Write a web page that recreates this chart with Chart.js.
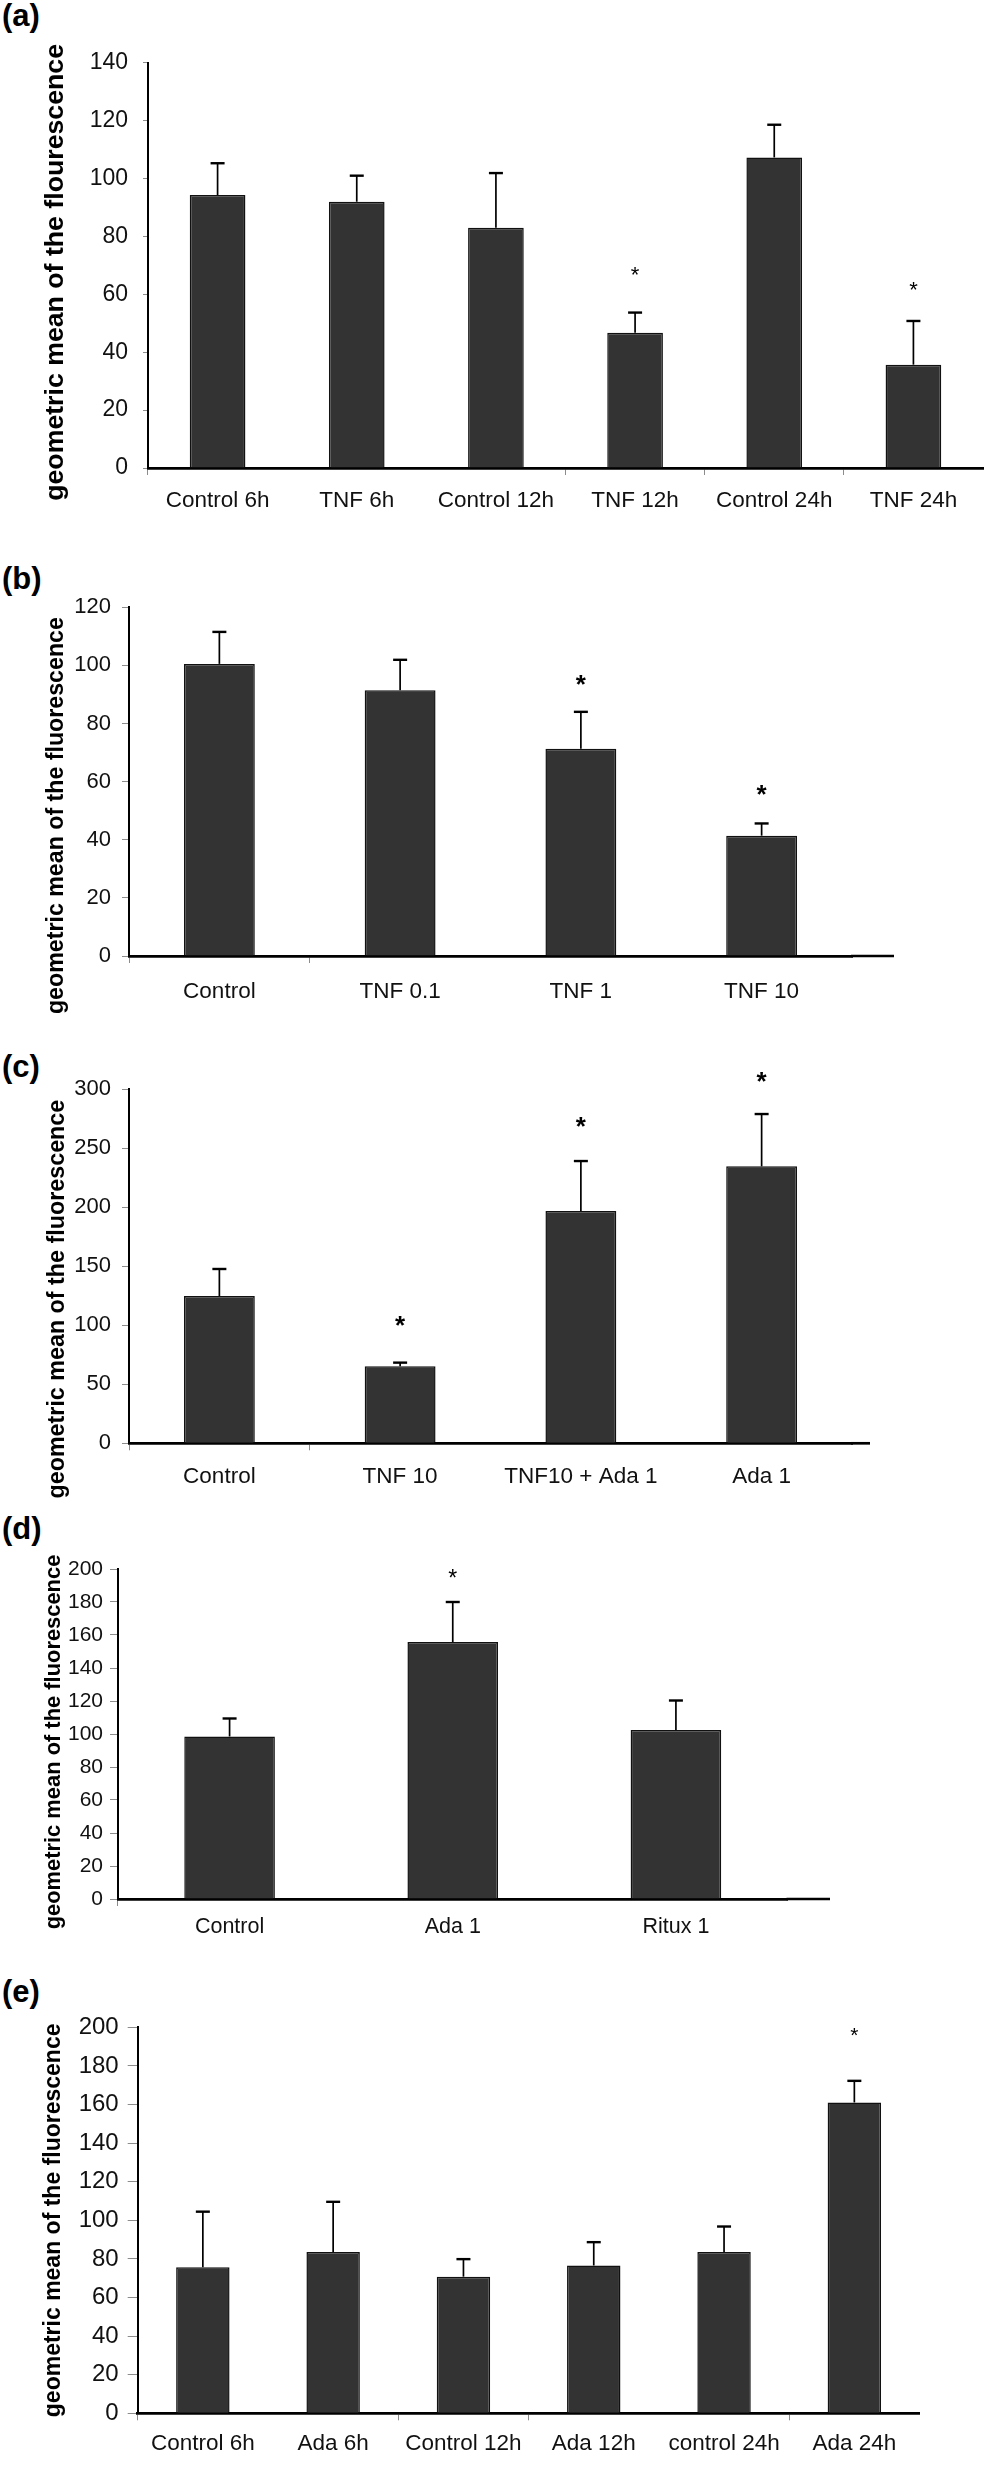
<!DOCTYPE html>
<html lang="en">
  <head>
    <meta charset="UTF-8" />
    <title>Geometric mean of the fluorescence</title>
    <script src="https://cdn.jsdelivr.net/npm/chart.js"></script>
    <style>
      body {
        margin: 0;
        background: #fff;
        font-family: 'Liberation Sans', Arial, sans-serif;
      }
      .page {
        position: relative;
        width: 1004px;
        height: 2479px;
      }
      .panel {
        position: absolute;
        left: 0;
        width: 1004px;
      }
      .tag {
        position: absolute;
        left: 2px;
        font-weight: bold;
        font-size: 31px;
        line-height: 1;
      }
    </style>
  </head>
  <body>
    <div class="page">
      <div class="tag" style="top: 0px">(a)</div>
      <div class="panel" style="top: 34px; height: 484px"><canvas id="chartA"></canvas></div>

      <div class="tag" style="top: 563px">(b)</div>
      <div class="panel" style="top: 582.7px; height: 440px"><canvas id="chartB"></canvas></div>

      <div class="tag" style="top: 1051px">(c)</div>
      <div class="panel" style="top: 1059px; height: 445px"><canvas id="chartC"></canvas></div>

      <div class="tag" style="top: 1513px">(d)</div>
      <div class="panel" style="top: 1549px; height: 400px"><canvas id="chartD"></canvas></div>

      <div class="tag" style="top: 1976px">(e)</div>
      <div class="panel" style="top: 2004px; height: 459.3px"><canvas id="chartE"></canvas></div>
    </div>

    <script>
      // (a) time course, TNF
      const catA = ['Control 6h', 'TNF 6h', 'Control 12h', 'TNF 12h', 'Control 24h', 'TNF 24h'];
      const meanA = [94.3, 92.0, 83.0, 46.7, 107.3, 35.7];
      const errA = [11.0, 9.0, 18.9, 7.0, 11.3, 15.1];
      const starA = [null, null, null, 68.7, null, 63.6];
      const ticksA = [0, 20, 40, 60, 80, 100, 120, 140];

      // (b) TNF dose
      const catB = ['Control', 'TNF 0.1', 'TNF 1', 'TNF 10'];
      const meanB = [100.5, 91.4, 71.3, 41.4];
      const errB = [11.0, 10.5, 12.7, 4.2];
      const starB = [null, null, 95.7, 58.0];
      const ticksB = [0, 20, 40, 60, 80, 100, 120];

      // (c) TNF + adalimumab
      const catC = ['Control', 'TNF 10', 'TNF10 + Ada 1', 'Ada 1'];
      const meanC = [124.7, 65.2, 196.7, 234.5];
      const errC = [22.9, 3.1, 42.3, 44.3];
      const starC = [null, 105.8, 273.8, 311.9];
      const ticksC = [0, 50, 100, 150, 200, 250, 300];

      // (d) adalimumab vs rituximab
      const catD = ['Control', 'Ada 1', 'Ritux 1'];
      const meanD = [98.5, 155.7, 102.5];
      const errD = [10.9, 24.3, 17.8];
      const starD = [null, 197.6, null];
      const ticksD = [0, 20, 40, 60, 80, 100, 120, 140, 160, 180, 200];

      // (e) time course, adalimumab
      const catE = ['Control 6h', 'Ada 6h', 'Control 12h', 'Ada 12h', 'control 24h', 'Ada 24h'];
      const meanE = [75.7, 83.6, 70.8, 76.6, 83.6, 161.1];
      const errE = [28.8, 26.0, 9.1, 12.1, 13.2, 11.2];
      const starE = [null, null, null, null, null, 198.7];
      const ticksE = [0, 20, 40, 60, 80, 100, 120, 140, 160, 180, 200];

      const FAMILY = "'Liberation Sans', Arial, sans-serif";
      Chart.defaults.font.family = FAMILY;

      // error bars (upper half only), significance stars, the y title
      // (not always centred on the plot) and the bit of x axis that runs
      // past the last category
      const barExtras = {
        id: 'barExtras',
        afterDatasetsDraw(chart, args, opts) {
          const ctx = chart.ctx;
          const y = chart.scales.y;
          const area = chart.chartArea;
          const values = chart.data.datasets[0].data;
          const bars = chart.getDatasetMeta(0).data;
          ctx.save();
          ctx.strokeStyle = '#000';
          ctx.fillStyle = '#000';
          bars.forEach((bar, i) => {
            const base = y.getPixelForValue(values[i]);
            const top = y.getPixelForValue(values[i] + opts.errs[i]);
            ctx.lineWidth = 1.7;
            ctx.beginPath();
            ctx.moveTo(bar.x, base);
            ctx.lineTo(bar.x, top);
            ctx.stroke();
            ctx.lineWidth = 2.4;
            ctx.beginPath();
            ctx.moveTo(bar.x - 7, top);
            ctx.lineTo(bar.x + 7, top);
            ctx.stroke();
            if (opts.stars[i] != null) {
              ctx.font = opts.starWeight + ' ' + opts.starSize + 'px ' + FAMILY;
              ctx.textAlign = 'center';
              ctx.textBaseline = 'alphabetic';
              ctx.fillText('*', bar.x, y.getPixelForValue(opts.stars[i]) + 0.585 * opts.starSize);
            }
          });
          if (opts.ext) {
            const y0 = y.getPixelForValue(0);
            ctx.lineWidth = 2.7;
            ctx.beginPath();
            ctx.moveTo(area.right - 1, y0);
            ctx.lineTo(area.right + opts.ext, y0);
            ctx.stroke();
          }
          const t = opts.title;
          ctx.translate(t.x, (area.top + area.bottom) / 2 + t.shift);
          ctx.rotate(-Math.PI / 2);
          ctx.font = 'bold ' + t.size + 'px ' + FAMILY;
          ctx.textAlign = 'center';
          ctx.textBaseline = 'middle';
          ctx.fillText(t.text, 0, 0);
          ctx.restore();
        }
      };

      function makeChart(id, labels, values, errs, stars, yTicks, look) {
        return new Chart(document.getElementById(id), {
          type: 'bar',
          data: {
            labels: labels,
            datasets: [{
              data: values,
              backgroundColor: '#333333',
              borderColor: '#111111',
              borderWidth: 1.5,
              barPercentage: look.bar,
              categoryPercentage: 1
            }]
          },
          options: {
            responsive: true,
            maintainAspectRatio: false,
            animation: false,
            devicePixelRatio: 1,
            layout: { padding: { top: look.padTop, left: 0, right: look.padRight, bottom: 0 } },
            plugins: {
              legend: { display: false },
              tooltip: { enabled: false },
              barExtras: {
                errs: errs,
                stars: stars,
                starSize: look.starSize,
                starWeight: look.starWeight,
                ext: look.ext,
                title: look.title
              }
            },
            scales: {
              x: {
                offset: true,
                afterFit: function(s) { s.height = look.xHeight; },
                grid: {
                  drawOnChartArea: false,
                  offset: true,
                  tickLength: 7,
                  color: function(c) {
                    return look.xTicks.includes(c.index) ? '#8c8c8c' : 'rgba(0,0,0,0)';
                  }
                },
                border: { color: '#000', width: 2.7 },
                ticks: {
                  color: '#111',
                  font: { size: look.xFont },
                  padding: look.xPad,
                  maxRotation: 0,
                  autoSkip: false
                }
              },
              y: {
                min: yTicks[0],
                max: yTicks[yTicks.length - 1],
                afterBuildTicks: function(s) {
                  s.ticks = yTicks.map(v => ({ value: v }));
                },
                afterFit: function(s) { s.width = look.axisX; },
                grid: { drawOnChartArea: false, tickLength: look.yTick, color: '#8c8c8c' },
                border: { color: '#000', width: 2 },
                ticks: { color: '#111', font: { size: look.yFont }, padding: look.yPad }
              }
            }
          },
          plugins: [barExtras]
        });
      }

      makeChart('chartA', catA, meanA, errA, starA, ticksA, {
        padTop: 20, padRight: 21, axisX: 148, bar: 0.40, xHeight: 50,
        xFont: 22.5, xPad: 12, xTicks: [0, 3, 4, 5],
        yFont: 23, yTick: 5, yPad: 15,
        title: { text: 'geometric mean of the flourescence', size: 26.7, x: 56, shift: 7 },
        starSize: 22, starWeight: 'normal', ext: 0
      });

      makeChart('chartB', catB, meanB, errB, starB, ticksB, {
        padTop: 20, padRight: 152, axisX: 129, bar: 0.392, xHeight: 67,
        xFont: 22.5, xPad: 15, xTicks: [0, 1],
        yFont: 22, yTick: 7, yPad: 11,
        title: { text: 'geometric mean of the fluorescence', size: 23.2, x: 57, shift: 34 },
        starSize: 26, starWeight: 'bold', ext: 42
      });

      makeChart('chartC', catC, meanC, errC, starC, ticksC, {
        padTop: 30, padRight: 152, axisX: 129, bar: 0.392, xHeight: 60.7,
        xFont: 22.5, xPad: 12.5, xTicks: [0, 1],
        yFont: 22, yTick: 7, yPad: 11,
        title: { text: 'geometric mean of the fluorescence', size: 23.3, x: 58, shift: 33 },
        starSize: 26, starWeight: 'bold', ext: 18
      });

      makeChart('chartD', catD, meanD, errD, starD, ticksD, {
        padTop: 20, padRight: 216.5, axisX: 118, bar: 0.406, xHeight: 50,
        xFont: 21.5, xPad: 8.4, xTicks: [0, 3],
        yFont: 21, yTick: 8, yPad: 7,
        title: { text: 'geometric mean of the fluorescence', size: 21.9, x: 54, shift: 8 },
        starSize: 23, starWeight: 'normal', ext: 42.5
      });

      makeChart('chartE', catE, meanE, errE, starE, ticksE, {
        padTop: 20, padRight: 84.5, axisX: 137.7, bar: 0.41, xHeight: 50,
        xFont: 22.5, xPad: 9.5, xTicks: [0, 2, 3, 5, 6],
        yFont: 24, yTick: 10, yPad: 9,
        title: { text: 'geometric mean of the fluorescence', size: 23, x: 54, shift: 0 },
        starSize: 21, starWeight: 'normal', ext: 0
      });
    </script>
  </body>
</html>
